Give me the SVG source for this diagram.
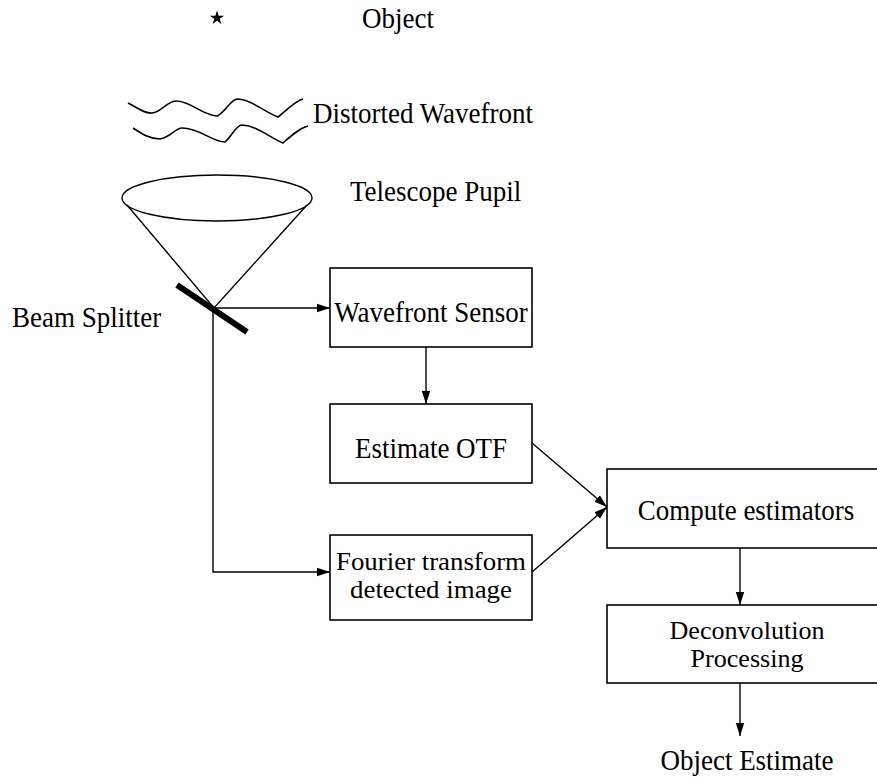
<svg xmlns="http://www.w3.org/2000/svg" width="877" height="777" viewBox="0 0 877 777">
<style>
  text { font-family: "Liberation Serif", "Times New Roman", serif; font-size: 27px; fill: #000; }
  .c { text-anchor: middle; }
  .two { font-size: 25px; }
  .box { fill: #fff; stroke: #000; stroke-width: 1.6; }
  .ln { fill: none; stroke: #000; stroke-width: 1.4; }
  .wave { fill: none; stroke: #000; stroke-width: 1.6; }
</style>
<defs>
  <marker id="ah" markerUnits="userSpaceOnUse" markerWidth="14" markerHeight="10" refX="13" refY="5" orient="auto">
    <path d="M0,0.8 L13,5 L0,9.2 Z" fill="#000"/>
  </marker>
</defs>
<rect width="877" height="777" fill="#fff"/>

<g id="object">
  <polygon points="217,10.5 218.65,15.8 224.13,15.68 219.67,18.87 221.41,24.07 217,20.8 212.59,24.07 214.33,18.87 209.87,15.68 215.35,15.8" fill="#000"/>
  <text transform="translate(362,28) scale(1,1.1)">Object</text>
</g>

<g id="wavefront">
  <path class="wave" d="M128,103 C138,108 145,114 152,113 C162,112 168,100 177,101 C192,102 200,114 217,116 C225,113 230,100 237,99 C250,99 265,112 278,117 C287,110 295,101 303,99"/>
  <path class="wave" d="M133,128 C142,134 150,139 160,139 C170,138 175,128 182,128 C200,128 212,142 225,142 C232,136 236,125 242,125 C258,126 270,138 283,143 C292,135 300,128 308,126"/>
  <text transform="translate(313,123) scale(1,1.1)">Distorted Wavefront</text>
</g>

<g id="pupil">
  <ellipse cx="217" cy="198" rx="95" ry="23" class="ln"/>
  <path class="ln" d="M127,205 L214,308 L307,205"/>
  <text transform="translate(350,201) scale(1,1.1)">Telescope Pupil</text>
</g>

<g id="beam-splitter">
  <line x1="177" y1="285" x2="247" y2="332" stroke="#000" stroke-width="6"/>
  <text transform="translate(12,327) scale(1,1.1)">Beam Splitter</text>
</g>

<g id="connectors">
  <line class="ln" x1="214" y1="308" x2="330" y2="308" marker-end="url(#ah)"/>
  <path class="ln" d="M213,308 L213,572 L330,572" marker-end="url(#ah)"/>
  <line class="ln" x1="426" y1="347" x2="426" y2="404" marker-end="url(#ah)"/>
  <line class="ln" x1="532" y1="443" x2="607" y2="507" marker-end="url(#ah)"/>
  <line class="ln" x1="532" y1="572" x2="607" y2="507" marker-end="url(#ah)"/>
  <line class="ln" x1="740" y1="548" x2="740" y2="605" marker-end="url(#ah)"/>
  <line class="ln" x1="740" y1="683" x2="740" y2="736" marker-end="url(#ah)"/>
</g>

<g id="wavefront-sensor">
  <rect class="box" x="330" y="268" width="202" height="79"/>
  <text class="c" transform="translate(431,322) scale(1,1.1)">Wavefront Sensor</text>
</g>

<g id="estimate-otf">
  <rect class="box" x="330" y="404" width="202" height="79"/>
  <text class="c" transform="translate(431,458) scale(1,1.1)">Estimate OTF</text>
</g>

<g id="fourier">
  <rect class="box" x="330" y="535" width="202" height="85"/>
  <text class="c two" x="431" y="570" textLength="190" lengthAdjust="spacingAndGlyphs">Fourier transform</text>
  <text class="c two" x="431" y="598" textLength="162" lengthAdjust="spacingAndGlyphs">detected image</text>
</g>

<g id="compute">
  <rect class="box" x="607" y="469" width="290" height="79"/>
  <text class="c" transform="translate(746,520) scale(1,1.1)">Compute estimators</text>
</g>

<g id="deconvolution">
  <rect class="box" x="607" y="605" width="290" height="78"/>
  <text class="c two" x="747" y="639" textLength="155" lengthAdjust="spacingAndGlyphs">Deconvolution</text>
  <text class="c two" x="747" y="667" textLength="113" lengthAdjust="spacingAndGlyphs">Processing</text>
</g>

<g id="object-estimate">
  <text class="c" transform="translate(747,770) scale(1,1.1)">Object Estimate</text>
</g>
</svg>
